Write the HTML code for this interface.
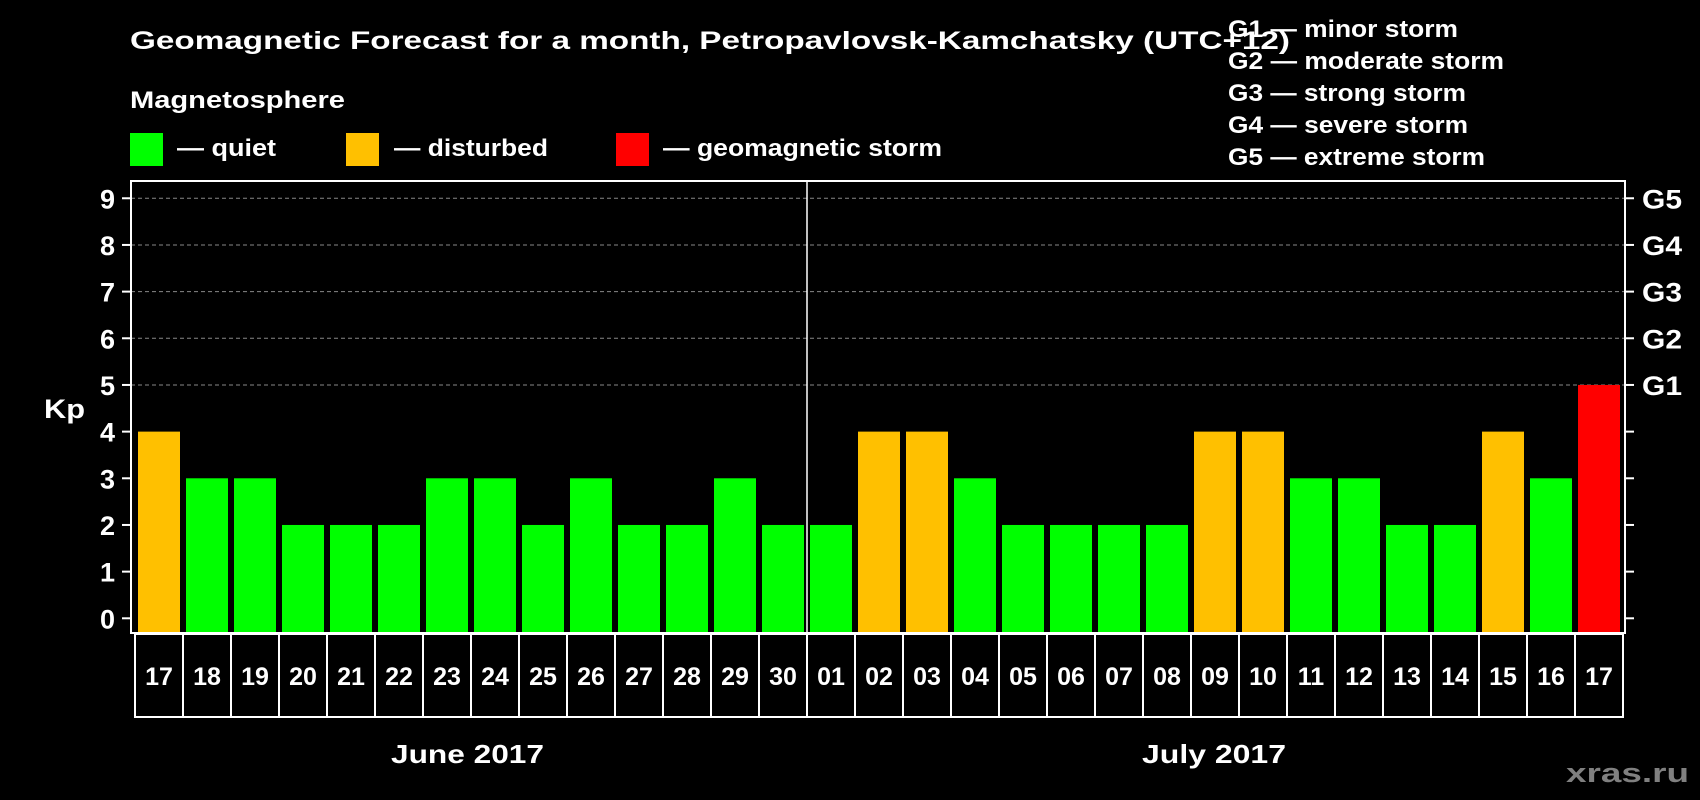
<!DOCTYPE html>
<html><head><meta charset="utf-8"><style>
html,body{margin:0;padding:0;background:#000;}
svg{display:block;font-family:"Liberation Sans",Arial,sans-serif;font-weight:bold;}
</style></head><body>
<svg id="chart" width="1700" height="800" xmlns="http://www.w3.org/2000/svg">
<text x="130" y="49" fill="#fff" font-size="25" textLength="1160" lengthAdjust="spacingAndGlyphs">Geomagnetic Forecast for a month, Petropavlovsk-Kamchatsky (UTC+12)</text>
<text x="130" y="108" fill="#fff" font-size="24" textLength="215" lengthAdjust="spacingAndGlyphs">Magnetosphere</text>
<g><rect x="130" y="133" width="33" height="33" fill="#00ff00"/><text x="177" y="156" fill="#fff" font-size="24" textLength="99" lengthAdjust="spacingAndGlyphs">— quiet</text></g>
<g><rect x="346" y="133" width="33" height="33" fill="#ffc000"/><text x="394" y="156" fill="#fff" font-size="24" textLength="154" lengthAdjust="spacingAndGlyphs">— disturbed</text></g>
<g><rect x="616" y="133" width="33" height="33" fill="#ff0000"/><text x="663" y="156" fill="#fff" font-size="24" textLength="279" lengthAdjust="spacingAndGlyphs">— geomagnetic storm</text></g>
<g fill="#fff" font-size="24" lengthAdjust="spacingAndGlyphs">
<text x="1228" y="37" textLength="230" lengthAdjust="spacingAndGlyphs">G1 — minor storm</text>
<text x="1228" y="69" textLength="276" lengthAdjust="spacingAndGlyphs">G2 — moderate storm</text>
<text x="1228" y="101" textLength="238" lengthAdjust="spacingAndGlyphs">G3 — strong storm</text>
<text x="1228" y="133" textLength="240" lengthAdjust="spacingAndGlyphs">G4 — severe storm</text>
<text x="1228" y="165" textLength="257" lengthAdjust="spacingAndGlyphs">G5 — extreme storm</text>
</g>
<g id="plot"></g>
<text x="44" y="418" fill="#fff" font-size="27" textLength="41" lengthAdjust="spacingAndGlyphs">Kp</text>
<text x="391" y="763" fill="#fff" font-size="26" textLength="153" lengthAdjust="spacingAndGlyphs">June 2017</text>
<text x="1142" y="763" fill="#fff" font-size="26" textLength="144" lengthAdjust="spacingAndGlyphs">July 2017</text>
<text x="1566" y="782" fill="#808080" font-size="27" textLength="123" lengthAdjust="spacingAndGlyphs">xras.ru</text>
</svg>
<script>
const days = ["17","18","19","20","21","22","23","24","25","26","27","28","29","30","01","02","03","04","05","06","07","08","09","10","11","12","13","14","15","16","17"];
const kpValues = [4,3,3,2,2,2,3,3,2,3,2,2,3,2,2,4,4,3,2,2,2,2,4,4,3,3,2,2,4,3,5];
const yTicks = [0,1,2,3,4,5,6,7,8,9];
const gLabels = ["G1","G2","G3","G4","G5"];
const gLevels = [5,6,7,8,9];

const NS="http://www.w3.org/2000/svg";
const plot=document.getElementById('plot');
const L=131,R=1625,T=181,B=633,pitch=48,x0=135;
const y=v=>618.3-v*46.67;
const x=i=>x0+i*pitch;
function mk(tag,attrs,parent){const e=document.createElementNS(NS,tag);for(const k in attrs)e.setAttribute(k,attrs[k]);(parent||plot).appendChild(e);return e;}
function color(v){return v>=5?"#ff0000":v>=4?"#ffc000":"#00ff00";}
gLevels.forEach(v=>{const l=mk('line',{x1:L,x2:R,y1:y(v),y2:y(v),stroke:"#888","stroke-width":1,"stroke-dasharray":"4,3"});

});
kpValues.forEach((v,i)=>{const r=mk('rect',{x:x(i)+3,y:y(v),width:42,height:B-y(v),fill:color(v)});

});
const f=mk('rect',{x:L,y:T,width:R-L,height:B-T,fill:"none",stroke:"#fff","stroke-width":2});


const sep=mk('line',{x1:x(14),x2:x(14),y1:T,y2:B,stroke:"#fff","stroke-width":1.5});


yTicks.forEach(v=>{
 mk('line',{x1:122,x2:L,y1:y(v),y2:y(v),stroke:"#fff","stroke-width":2});
 mk('line',{x1:R,x2:1634,y1:y(v),y2:y(v),stroke:"#fff","stroke-width":2});
 const t=mk('text',{x:115,y:y(v)+10,fill:"#fff","font-size":27,"text-anchor":"end"});t.textContent=v;
 
 
});
gLabels.forEach((g,i)=>{const t=mk('text',{x:1642,y:y(gLevels[i])+10,fill:"#fff","font-size":27,textLength:40,lengthAdjust:"spacingAndGlyphs"});t.textContent=g;

});
days.forEach((d,i)=>{
 const r=mk('rect',{x:x(i),y:634,width:pitch,height:83,fill:"none",stroke:"#fff","stroke-width":2});
 
 
 const t=mk('text',{x:x(i)+pitch/2,y:685,fill:"#fff","font-size":25,"text-anchor":"middle"});t.textContent=d;
 
 
});
</script>
</body></html>
